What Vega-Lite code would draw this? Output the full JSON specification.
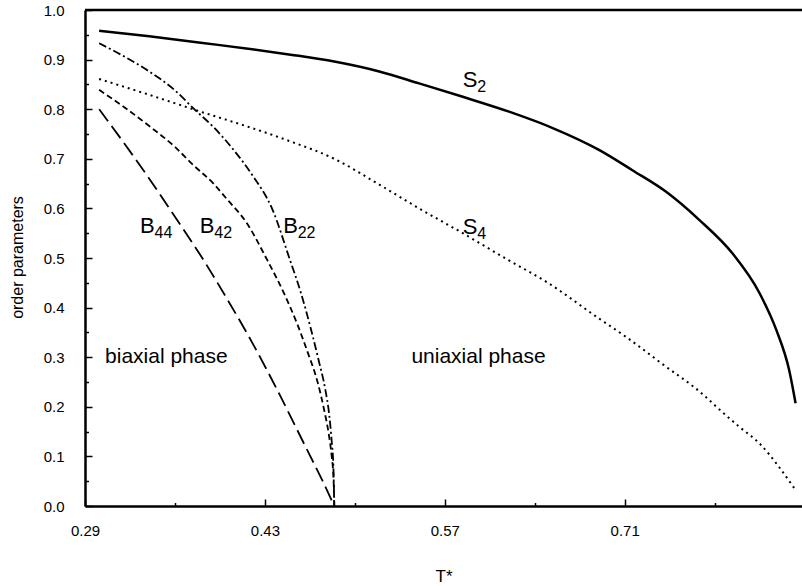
{
  "$schema": "https://vega.github.io/schema/vega-lite/v6.json",
  "width": 717,
  "height": 496,
  "autosize": "none",
  "padding": {"left": 85, "top": 10, "right": 0, "bottom": 80},
  "background": "white",
  "config": {
    "view": {"stroke": null},
    "font": "Liberation Sans",
    "text": {"font": "Liberation Sans", "color": "black"}
  },
  "resolve": {"axis": {"x": "independent", "y": "independent"}},
  "datasets": {
    "curves": [
      {"series": "S2", "T": 0.301, "v": 0.958},
      {"series": "S2", "T": 0.340, "v": 0.947},
      {"series": "S2", "T": 0.380, "v": 0.934},
      {"series": "S2", "T": 0.420, "v": 0.921},
      {"series": "S2", "T": 0.450, "v": 0.910},
      {"series": "S2", "T": 0.484, "v": 0.896},
      {"series": "S2", "T": 0.519, "v": 0.876},
      {"series": "S2", "T": 0.550, "v": 0.852},
      {"series": "S2", "T": 0.584, "v": 0.825},
      {"series": "S2", "T": 0.620, "v": 0.795},
      {"series": "S2", "T": 0.654, "v": 0.762},
      {"series": "S2", "T": 0.690, "v": 0.718},
      {"series": "S2", "T": 0.716, "v": 0.677},
      {"series": "S2", "T": 0.742, "v": 0.634},
      {"series": "S2", "T": 0.768, "v": 0.577},
      {"series": "S2", "T": 0.794, "v": 0.509},
      {"series": "S2", "T": 0.815, "v": 0.429},
      {"series": "S2", "T": 0.828, "v": 0.355},
      {"series": "S2", "T": 0.838, "v": 0.274},
      {"series": "S2", "T": 0.843, "v": 0.207},
      {"series": "S4", "T": 0.301, "v": 0.861},
      {"series": "S4", "T": 0.340, "v": 0.829},
      {"series": "S4", "T": 0.380, "v": 0.795},
      {"series": "S4", "T": 0.420, "v": 0.762},
      {"series": "S4", "T": 0.450, "v": 0.735},
      {"series": "S4", "T": 0.484, "v": 0.700},
      {"series": "S4", "T": 0.519, "v": 0.648},
      {"series": "S4", "T": 0.550, "v": 0.600},
      {"series": "S4", "T": 0.584, "v": 0.550},
      {"series": "S4", "T": 0.620, "v": 0.495},
      {"series": "S4", "T": 0.649, "v": 0.452},
      {"series": "S4", "T": 0.690, "v": 0.378},
      {"series": "S4", "T": 0.711, "v": 0.341},
      {"series": "S4", "T": 0.740, "v": 0.285},
      {"series": "S4", "T": 0.770, "v": 0.227},
      {"series": "S4", "T": 0.784, "v": 0.194},
      {"series": "S4", "T": 0.799, "v": 0.160},
      {"series": "S4", "T": 0.815, "v": 0.126},
      {"series": "S4", "T": 0.830, "v": 0.079},
      {"series": "S4", "T": 0.843, "v": 0.032},
      {"series": "B22", "T": 0.301, "v": 0.933},
      {"series": "B22", "T": 0.320, "v": 0.907},
      {"series": "B22", "T": 0.340, "v": 0.876},
      {"series": "B22", "T": 0.360, "v": 0.838},
      {"series": "B22", "T": 0.375, "v": 0.800},
      {"series": "B22", "T": 0.390, "v": 0.764},
      {"series": "B22", "T": 0.405, "v": 0.720},
      {"series": "B22", "T": 0.420, "v": 0.668},
      {"series": "B22", "T": 0.436, "v": 0.597},
      {"series": "B22", "T": 0.449, "v": 0.500},
      {"series": "B22", "T": 0.458, "v": 0.430},
      {"series": "B22", "T": 0.466, "v": 0.355},
      {"series": "B22", "T": 0.472, "v": 0.292},
      {"series": "B22", "T": 0.477, "v": 0.235},
      {"series": "B22", "T": 0.480, "v": 0.185},
      {"series": "B22", "T": 0.482, "v": 0.130},
      {"series": "B22", "T": 0.4833, "v": 0.080},
      {"series": "B22", "T": 0.484, "v": 0.0},
      {"series": "B42", "T": 0.301, "v": 0.839},
      {"series": "B42", "T": 0.320, "v": 0.805},
      {"series": "B42", "T": 0.340, "v": 0.766},
      {"series": "B42", "T": 0.360, "v": 0.724},
      {"series": "B42", "T": 0.374, "v": 0.688},
      {"series": "B42", "T": 0.390, "v": 0.650},
      {"series": "B42", "T": 0.400, "v": 0.620},
      {"series": "B42", "T": 0.416, "v": 0.570},
      {"series": "B42", "T": 0.431, "v": 0.500},
      {"series": "B42", "T": 0.445, "v": 0.428},
      {"series": "B42", "T": 0.455, "v": 0.368},
      {"series": "B42", "T": 0.463, "v": 0.312},
      {"series": "B42", "T": 0.471, "v": 0.250},
      {"series": "B42", "T": 0.476, "v": 0.195},
      {"series": "B42", "T": 0.480, "v": 0.140},
      {"series": "B42", "T": 0.482, "v": 0.100},
      {"series": "B42", "T": 0.4835, "v": 0.050},
      {"series": "B42", "T": 0.484, "v": 0.0},
      {"series": "B44", "T": 0.301, "v": 0.800},
      {"series": "B44", "T": 0.320, "v": 0.733},
      {"series": "B44", "T": 0.340, "v": 0.660},
      {"series": "B44", "T": 0.360, "v": 0.583},
      {"series": "B44", "T": 0.380, "v": 0.505},
      {"series": "B44", "T": 0.400, "v": 0.420},
      {"series": "B44", "T": 0.420, "v": 0.330},
      {"series": "B44", "T": 0.440, "v": 0.232},
      {"series": "B44", "T": 0.460, "v": 0.128},
      {"series": "B44", "T": 0.475, "v": 0.050},
      {"series": "B44", "T": 0.484, "v": 0.0}
    ],
    "labels": [
      {"main": "S", "sub": "2", "T": 0.584, "v": 0.845},
      {"main": "S", "sub": "4", "T": 0.584, "v": 0.548},
      {"main": "B", "sub": "44", "T": 0.3328, "v": 0.551},
      {"main": "B", "sub": "42", "T": 0.3794, "v": 0.551},
      {"main": "B", "sub": "22", "T": 0.4442, "v": 0.551}
    ],
    "phases": [
      {"text": "biaxial phase", "T": 0.3056, "v": 0.30},
      {"text": "uniaxial phase", "T": 0.544, "v": 0.30}
    ]
  },
  "layer": [
    {
      "data": {"name": "curves"},
      "transform": [{"filter": "datum.series === 'S2'"}],
      "mark": {"type": "line", "color": "black", "strokeWidth": 2.5, "interpolate": "monotone"},
      "encoding": {
        "x": {
          "field": "T", "type": "quantitative",
          "scale": {"domain": [0.29, 0.848], "nice": false, "zero": false},
          "axis": {
            "orient": "bottom",
            "title": "T*",
            "titleFont": "Liberation Sans", "titleFontSize": 17, "titleFontWeight": "normal", "titleColor": "black",
            "titleX": 358.5, "titleY": 75, "titleAlign": "center", "titleBaseline": "alphabetic",
            "values": [0.29, 0.43, 0.57, 0.71],
            "format": ".2f",
            "tickSize": -7,
            "tickColor": "black", "tickWidth": 1.5,
            "domainColor": "black", "domainWidth": 2.5,
            "labelFont": "Liberation Sans", "labelFontSize": 15, "labelColor": "black", "labelPadding": 24,
            "labelFlush": false, "labelOverlap": false, "grid": false
          }
        },
        "y": {
          "field": "v", "type": "quantitative",
          "scale": {"domain": [0, 1], "nice": false, "zero": false},
          "axis": {
            "orient": "left",
            "title": "order parameters",
            "titleFont": "Liberation Sans", "titleFontSize": 16, "titleFontWeight": "normal", "titleColor": "black",
            "titleX": -68, "titleY": 247, "titleAngle": 270, "titleAlign": "center", "titleBaseline": "middle",
            "values": [0, 0.1, 0.2, 0.3, 0.4, 0.5, 0.6, 0.7, 0.8, 0.9, 1.0],
            "format": ".1f",
            "tickSize": -7,
            "tickColor": "black", "tickWidth": 1.5,
            "domainColor": "black", "domainWidth": 2.5,
            "labelFont": "Liberation Sans", "labelFontSize": 15, "labelColor": "black", "labelPadding": 28,
            "labelFlush": false, "labelOverlap": false, "grid": false
          }
        }
      }
    },
    {
      "data": {"name": "curves"},
      "transform": [{"filter": "datum.series === 'S4'"}],
      "mark": {"type": "line", "color": "black", "strokeWidth": 2, "strokeDash": [2, 4], "interpolate": "monotone"},
      "encoding": {
        "x": {
          "field": "T", "type": "quantitative",
          "axis": {
            "orient": "bottom", "title": null, "labels": false, "domain": false, "grid": false,
            "values": [0.36, 0.5, 0.64, 0.78],
            "tickSize": -3.5, "tickColor": "black", "tickWidth": 1.5
          }
        },
        "y": {
          "field": "v", "type": "quantitative",
          "axis": {
            "orient": "left", "title": null, "labels": false, "domain": false, "grid": false,
            "values": [0.05, 0.15, 0.25, 0.35, 0.45, 0.55, 0.65, 0.75, 0.85, 0.95],
            "tickSize": -3.5, "tickColor": "black", "tickWidth": 1.5
          }
        }
      }
    },
    {
      "data": {"name": "curves"},
      "transform": [{"filter": "datum.series === 'B22'"}],
      "mark": {"type": "line", "color": "black", "strokeWidth": 1.8, "strokeDash": [8, 3, 2, 3], "interpolate": "monotone"},
      "encoding": {"x": {"field": "T", "type": "quantitative", "axis": null}, "y": {"field": "v", "type": "quantitative", "axis": null}}
    },
    {
      "data": {"name": "curves"},
      "transform": [{"filter": "datum.series === 'B42'"}],
      "mark": {"type": "line", "color": "black", "strokeWidth": 1.8, "strokeDash": [6, 3.5], "interpolate": "monotone"},
      "encoding": {"x": {"field": "T", "type": "quantitative", "axis": null}, "y": {"field": "v", "type": "quantitative", "axis": null}}
    },
    {
      "data": {"name": "curves"},
      "transform": [{"filter": "datum.series === 'B44'"}],
      "mark": {"type": "line", "color": "black", "strokeWidth": 1.8, "strokeDash": [15, 6], "interpolate": "monotone"},
      "encoding": {"x": {"field": "T", "type": "quantitative", "axis": null}, "y": {"field": "v", "type": "quantitative", "axis": null}}
    },
    {
      "data": {"values": [{}]},
      "mark": {"type": "rule", "color": "black", "strokeWidth": 2.5},
      "encoding": {"y": {"datum": 1, "axis": null}}
    },
    {
      "data": {"name": "labels"},
      "mark": {"type": "text", "align": "left", "baseline": "alphabetic", "fontSize": 22, "font": "Liberation Sans", "color": "black"},
      "encoding": {"x": {"field": "T", "type": "quantitative", "axis": null}, "y": {"field": "v", "type": "quantitative", "axis": null}, "text": {"field": "main"}}
    },
    {
      "data": {"name": "labels"},
      "mark": {"type": "text", "align": "left", "baseline": "alphabetic", "fontSize": 16, "dx": 14.5, "dy": 5, "font": "Liberation Sans", "color": "black"},
      "encoding": {"x": {"field": "T", "type": "quantitative", "axis": null}, "y": {"field": "v", "type": "quantitative", "axis": null}, "text": {"field": "sub"}}
    },
    {
      "data": {"name": "phases"},
      "mark": {"type": "text", "align": "left", "baseline": "middle", "fontSize": 21, "font": "Liberation Sans", "color": "black"},
      "encoding": {"x": {"field": "T", "type": "quantitative", "axis": null}, "y": {"field": "v", "type": "quantitative", "axis": null}, "text": {"field": "text"}}
    }
  ]
}
